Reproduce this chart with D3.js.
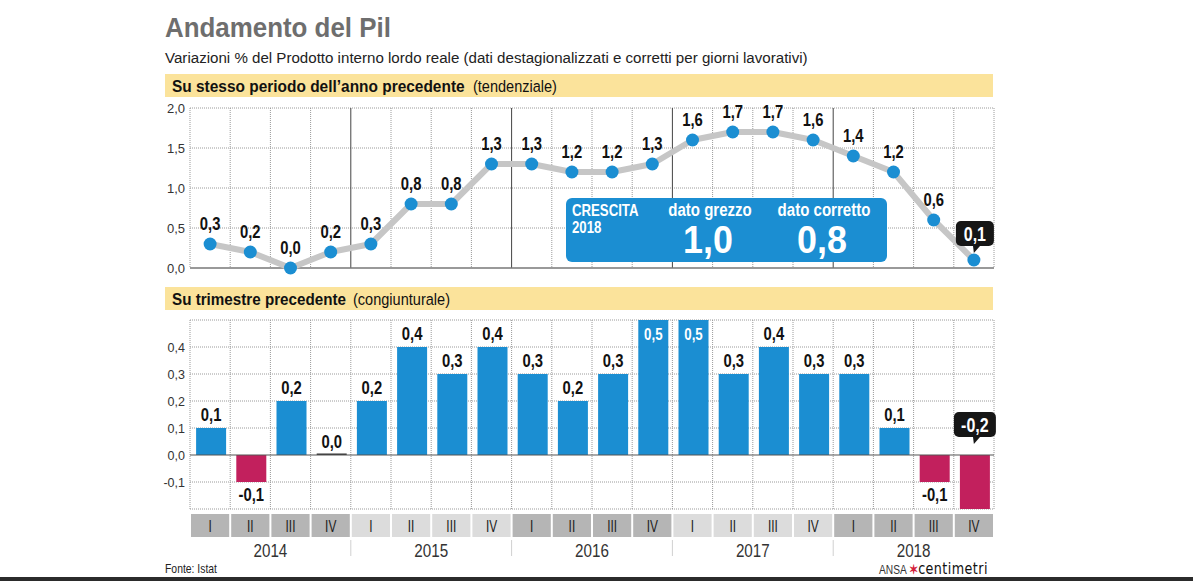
<!DOCTYPE html>
<html><head><meta charset="utf-8">
<script src="https://cdn.jsdelivr.net/npm/d3@7"></script>
<style>
body{margin:0;background:#fff;}
svg{display:block;}
</style></head>
<body>
<svg id="c" width="1193" height="581"></svg>
<script>
const years = ["2014","2015","2016","2017","2018"];
const quarters = ["I","II","III","IV"];
const tendenziale = [0.3,0.2,0.0,0.2, 0.3,0.8,0.8,1.3, 1.3,1.2,1.2,1.3, 1.6,1.7,1.7,1.6, 1.4,1.2,0.6,0.1];
const congiunturale = [0.1,-0.1,0.2,0.0, 0.2,0.4,0.3,0.4, 0.3,0.2,0.3,0.5, 0.5,0.3,0.4,0.3, 0.3,0.1,-0.1,-0.2];
const topTicks = [0,0.5,1,1.5,2];
const botTicks = [-0.1,0,0.1,0.2,0.3,0.4];
const crescitaLabels = ["dato grezzo","dato corretto"];
const crescitaValues = ["1,0","0,8"];

const FF = '"Liberation Sans", Arial, sans-serif';
const BLUE = "#1b8ed2", RED = "#c2205d";
const fmt = v => d3.format(".1f")(v).replace(".", ",").replace("\u2212","-");
const SX = 0.8;

const keys = [];
years.forEach(y => quarters.forEach(q => keys.push(y + "-" + q)));

const svg = d3.select("#c");
const x = d3.scaleBand().domain(keys).range([190, 994]);
const bw = x.bandwidth();
const cx = i => x(keys[i]) + bw / 2;

function ntext(parent, px, py, s, o = {}) {
  return parent.append("text")
    .attr("transform", `translate(${px},${py}) scale(${o.sx ?? SX},1)`)
    .attr("text-anchor", o.anchor || "start")
    .attr("font-family", FF).attr("font-size", o.size || 14)
    .attr("font-weight", o.weight || "normal").attr("fill", o.fill || "#111").text(s);
}
// text scaled horizontally to a target width
function fitText(parent, px, py, s, w, o = {}) {
  const t = ntext(parent, px, py, s, Object.assign({}, o, { sx: 1 }));
  const nat = t.node().getComputedTextLength();
  t.attr("transform", `translate(${px},${py}) scale(${w / nat},1)`);
  return t;
}

// Title
fitText(svg, 165, 37, "Andamento del Pil", 226, { size: 28.5, weight: "bold", fill: "#6e6e6e" });
fitText(svg, 165, 63, "Variazioni % del Prodotto interno lordo reale (dati destagionalizzati e corretti per giorni lavorativi)", 643, { size: 15.5, fill: "#222" });

function header(y, bold, normal, wb, xn, wn) {
  svg.append("rect").attr("x", 165).attr("y", y).attr("width", 828).attr("height", 23).attr("fill", "#fbe39b");
  fitText(svg, 172, y + 17.5, bold, wb, { size: 16.5, weight: "bold", fill: "#111" });
  fitText(svg, xn, y + 17.5, normal, wn, { size: 16.5, fill: "#111" });
}
header(74, "Su stesso periodo dell\u2019anno precedente", "(tendenziale)", 293, 473, 84);
header(287, "Su trimestre precedente", "(congiunturale)", 174, 353, 97);

// ---------- Top chart ----------
const yT = d3.scaleLinear().domain([0, 2]).range([268, 108]);
const gT = svg.append("g");
gT.selectAll(".hg").data(topTicks.filter(d => d > 0)).join("line")
  .attr("x1", 190).attr("x2", 994).attr("y1", d => yT(d)).attr("y2", d => yT(d))
  .attr("stroke", "#9a9a9a").attr("stroke-width", 1).attr("stroke-dasharray", "1,1");
const bounds = d3.range(0, keys.length + 1);
const bx = i => i < keys.length ? x(keys[i]) : 994;
const isYear = i => i % 4 === 0 && i > 0 && i < keys.length;
gT.selectAll(".vg").data(bounds).join("line")
  .attr("x1", bx).attr("x2", bx).attr("y1", 108).attr("y2", 268)
  .attr("stroke", i => isYear(i) ? "#444" : "#9a9a9a")
  .attr("stroke-dasharray", i => isYear(i) ? null : "1,1");
gT.append("line").attr("x1", 190).attr("x2", 994).attr("y1", 268).attr("y2", 268).attr("stroke", "#777").attr("stroke-width", 1.5);
const axT = d3.axisLeft(yT).tickValues(topTicks).tickSize(0).tickPadding(5).tickFormat(fmt);
const aT = gT.append("g").attr("transform", "translate(190,0)").call(axT);
aT.select(".domain").remove();
aT.selectAll("text").attr("font-family", FF).attr("font-size", 13).attr("fill", "#333");

// callout box
const cb = svg.append("g");
cb.append("rect").attr("x", 566).attr("y", 198).attr("width", 321).attr("height", 64).attr("rx", 6).attr("fill", BLUE);
ntext(cb, 572, 216, "CRESCITA", { size: 16.5, weight: "bold", fill: "#fff", sx: 0.8 });
ntext(cb, 572, 233, "2018", { size: 16.5, weight: "bold", fill: "#fff", sx: 0.8 });
const ccx = [710, 824];
crescitaLabels.forEach((l, i) => {
  ntext(cb, ccx[i], 216, l, { size: 17.5, weight: "bold", fill: "#fff", anchor: "middle", sx: 0.86 });
  ntext(cb, ccx[i] - 2, 253, crescitaValues[i], { size: 39, weight: "bold", fill: "#fff", anchor: "middle", sx: 0.92 });
});

// line + points
const line = d3.line().x((d, i) => cx(i)).y(d => yT(d));
gT.append("path").datum(tendenziale).attr("d", line).attr("fill", "none").attr("stroke", "#c6c6c6").attr("stroke-width", 6).attr("stroke-linejoin", "round");
gT.selectAll(".pt").data(tendenziale).join("circle").attr("cx", (d, i) => cx(i)).attr("cy", d => yT(d)).attr("r", 6.5).attr("fill", BLUE);
const lastT = tendenziale.length - 1;
tendenziale.slice(0, lastT).forEach((d, i) => {
  ntext(gT, cx(i), yT(d) - 14, fmt(d), { size: 19, weight: "bold", anchor: "middle", fill: "#111", sx: 0.78 });
});

function bubble(g, px, py, txt, w) {
  const h = 25, top = py - 33;
  g.append("rect").attr("x", px - w / 2).attr("y", top).attr("width", w).attr("height", h).attr("rx", 5).attr("fill", "#161616");
  g.append("path").attr("d", `M${px - 2},${top + h - 1} L${px + 6},${top + h - 1} L${px - 1},${py - 1} Z`).attr("fill", "#161616");
  ntext(g, px, top + 20, txt, { size: 20, weight: "bold", fill: "#fff", anchor: "middle", sx: 0.8 });
}
bubble(gT, cx(lastT) + 1, yT(tendenziale[lastT]) - 6, fmt(tendenziale[lastT]), 38);

// ---------- Bottom chart ----------
const yB = d3.scaleLinear().domain([-0.2, 0.5]).range([509, 320]);
const gB = svg.append("g");
gB.selectAll(".hg").data([-0.2, -0.1, 0.1, 0.2, 0.3, 0.4, 0.5]).join("line")
  .attr("x1", 190).attr("x2", 994).attr("y1", d => yB(d)).attr("y2", d => yB(d))
  .attr("stroke", "#9a9a9a").attr("stroke-dasharray", "1,1");
gB.selectAll(".vg").data(bounds).join("line")
  .attr("x1", bx).attr("x2", bx).attr("y1", 320).attr("y2", 510).attr("stroke", "#9a9a9a").attr("stroke-dasharray", "1,1");
const axB = d3.axisLeft(yB).tickValues(botTicks).tickSize(0).tickPadding(5).tickFormat(fmt);
const aB = gB.append("g").attr("transform", "translate(190,0)").call(axB);
aB.select(".domain").remove();
aB.selectAll("text").attr("font-family", FF).attr("font-size", 12.5).attr("fill", "#333");

const barW = 30;
gB.selectAll(".bar").data(congiunturale).join("rect")
  .attr("x", (d, i) => cx(i) - barW / 2 + 1).attr("width", barW)
  .attr("y", d => d === 0 ? yB(0) - 1.5 : Math.min(yB(d), yB(0)))
  .attr("height", d => d === 0 ? 1.5 : Math.abs(yB(d) - yB(0)))
  .attr("fill", d => d === 0 ? "#333" : (d > 0 ? BLUE : RED));
gB.append("line").attr("x1", 190).attr("x2", 994).attr("y1", yB(0)).attr("y2", yB(0)).attr("stroke", "#555").attr("stroke-width", 1.2);
const lastB = congiunturale.length - 1;
congiunturale.slice(0, lastB).forEach((d, i) => {
  const ly = d >= 0.5 ? yB(d) + 20 : (d < 0 ? yB(d) + 19 : yB(d) - 7);
  ntext(gB, cx(i) + 1, ly, fmt(d), { size: d >= 0.5 ? 17 : 19, weight: "bold", anchor: "middle", fill: d >= 0.5 ? "#fff" : "#111", sx: 0.78 });
});
bubble(gB, cx(lastB) + 1, yB(0) - 10, fmt(congiunturale[lastB]), 42);

// quarter band
const gQ = svg.append("g");
keys.forEach((k, i) => {
  const yi = Math.floor(i / 4);
  gQ.append("rect").attr("x", x(k) + 1).attr("y", 514).attr("width", bw - 2).attr("height", 23)
    .attr("fill", yi % 2 === 0 ? "#b5b5b5" : "#dcdcdc");
  ntext(gQ, cx(i), 532, quarters[i % 4], { size: 17, anchor: "middle", fill: "#222", sx: 0.7 });
});
years.forEach((y, j) => {
  const x0 = x(keys[j * 4]), x1 = j < years.length - 1 ? x(keys[j * 4 + 4]) : 994;
  ntext(gQ, (x0 + x1) / 2, 557, y, { size: 19, anchor: "middle", fill: "#333", sx: 0.8 });
  if (j > 0) gQ.append("line").attr("x1", x0).attr("x2", x0).attr("y1", 540).attr("y2", 556).attr("stroke", "#d0d0d0");
});

// footer
ntext(svg, 165, 573, "Fonte: Istat", { size: 13, fill: "#222", sx: 0.8 });
const ft = svg.append("text").attr("transform", "translate(879,574) scale(0.85,1)").attr("font-family", FF).attr("font-size", 12).attr("fill", "#333");
ft.append("tspan").text("ANSA ");
ft.append("tspan").attr("fill", "#d4213b").attr("font-size", 13).attr("font-weight", "bold").text("\u2736");
ft.append("tspan").attr("font-family", "DejaVu Sans, sans-serif").attr("font-size", 15).attr("fill", "#111").attr("letter-spacing", "0.5").text("centimetri");
svg.append("rect").attr("x", 0).attr("y", 577).attr("width", 1193).attr("height", 4).attr("fill", "#2b2b2b");
</script>
</body></html>
